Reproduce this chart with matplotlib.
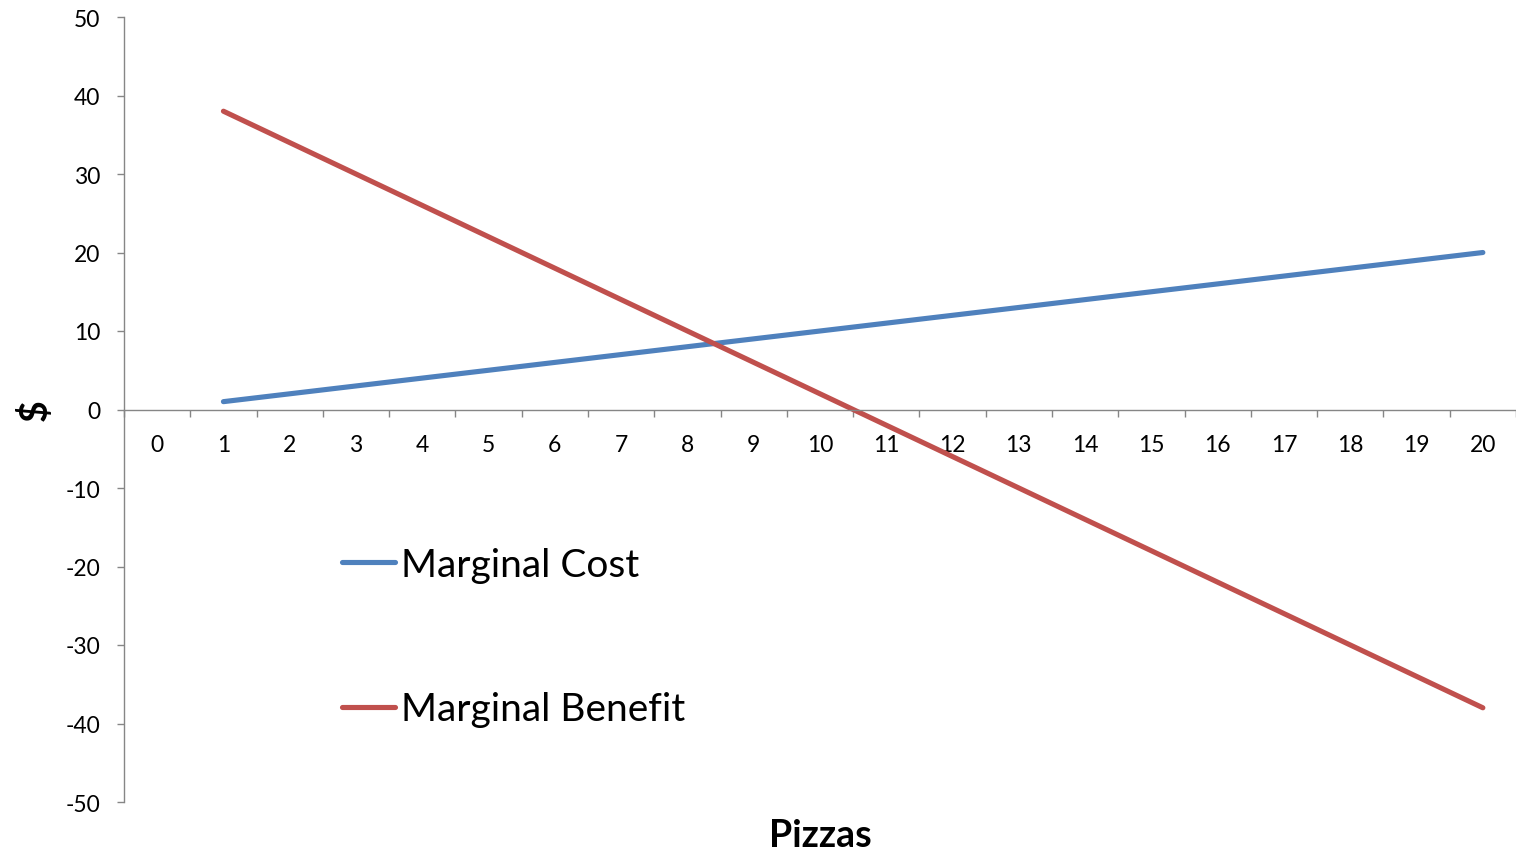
import matplotlib
matplotlib.use("Agg")
from matplotlib import pyplot as plt
from matplotlib.ticker import MultipleLocator

plt.rcParams['font.family'] = ['Lato', 'DejaVu Sans']
plt.rcParams['axes.unicode_minus'] = False

# chart data
pizzas = [1, 2, 3, 4, 5, 6, 7, 8, 9, 10, 11, 12, 13, 14, 15, 16, 17, 18, 19, 20]
marginal_cost = [1, 2, 3, 4, 5, 6, 7, 8, 9, 10, 11, 12, 13, 14, 15, 16, 17, 18, 19, 20]
marginal_benefit = [38, 34, 30, 26, 22, 18, 14, 10, 6, 2, -2, -6, -10, -14, -18, -22, -26, -30, -34, -38]
x_categories = list(range(0, 21))
y_ticks = [-50, -40, -30, -20, -10, 0, 10, 20, 30, 40, 50]

axis_grey = '#868686'

fig = plt.figure(figsize=(15.16, 8.54), dpi=100)
ax = fig.add_axes([124 / 1516, 1 - 803 / 854, 1392 / 1516, 785 / 854])

ax.plot(pizzas, marginal_cost, color='#4F81BD', linewidth=3.7,
        solid_capstyle='round', label='Marginal Cost')
ax.plot(pizzas, marginal_benefit, color='#C0504D', linewidth=3.7,
        solid_capstyle='round', label='Marginal Benefit')

ax.set_xlim(-0.5, 20.5)
ax.set_ylim(-50, 50)

# spines like an excel chart: x axis crosses at 0
ax.spines['top'].set_visible(False)
ax.spines['right'].set_visible(False)
ax.spines['bottom'].set_position(('data', 0))
for side in ['left', 'bottom']:
    ax.spines[side].set_color(axis_grey)
    ax.spines[side].set_linewidth(1.0)

ax.set_xticks(x_categories)
ax.set_xticklabels([str(c) for c in x_categories])
ax.xaxis.set_minor_locator(MultipleLocator(1, offset=0.5))
ax.tick_params(axis='x', which='major', length=0, pad=18, labelsize=16.5)
ax.tick_params(axis='x', which='minor', length=5, width=1, color=axis_grey, direction='out')

ax.set_yticks(y_ticks)
ax.set_yticklabels([str(v) for v in y_ticks])
ax.tick_params(axis='y', which='major', length=5, width=1, color=axis_grey, pad=12, labelsize=16.5)

ax.set_xlabel('Pizzas', fontsize=27, fontweight='bold')
ax.xaxis.set_label_coords(0.5, -0.056)
ax.xaxis.label.set_verticalalignment('baseline')

ax.set_ylabel('$', fontsize=27, fontweight='bold')
ax.yaxis.set_label_coords(-0.064, 0.5)
ax.yaxis.label.set_verticalalignment('center')

leg = ax.legend(loc='center left', bbox_to_anchor=(342 / 1516, 1 - 638 / 854),
                bbox_transform=fig.transFigure, frameon=False, fontsize=28,
                handlelength=1.37, handletextpad=0.15, labelspacing=2.8,
                borderpad=0, borderaxespad=0)

fig.savefig('out.png', dpi=100)
